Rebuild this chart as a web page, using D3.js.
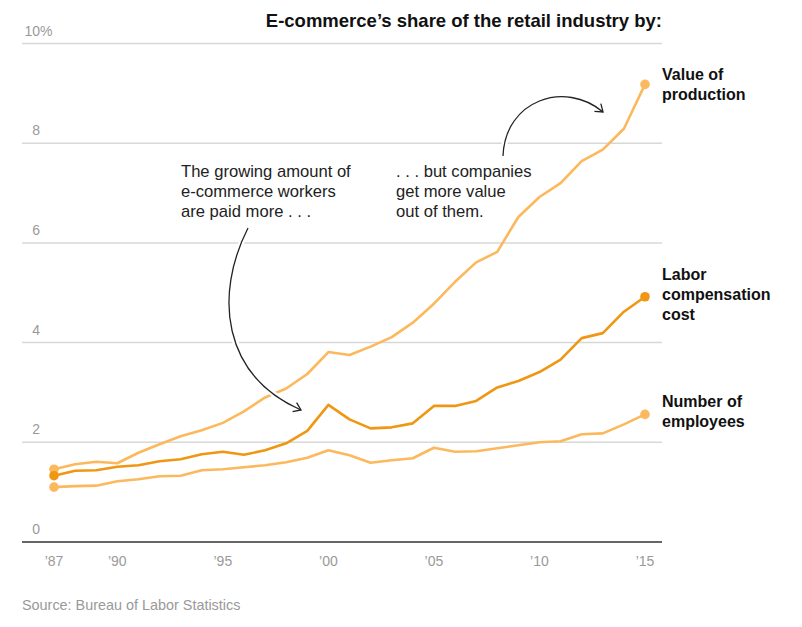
<!DOCTYPE html>
<html>
<head>
<meta charset="utf-8">
<script src="https://cdn.jsdelivr.net/npm/d3@7"></script>
<style>
  body { margin: 0; background: #fff; }
  svg { display: block; font-family: "Liberation Sans", Arial, sans-serif; }
</style>
</head>
<body>
<svg id="chart" width="802" height="627"></svg>
<script>
const years = d3.range(1987, 2016);
const valueOfProduction = [1.46, 1.56, 1.61, 1.58, 1.79, 1.96, 2.12, 2.24, 2.39, 2.62, 2.90, 3.08, 3.37, 3.81, 3.75, 3.92, 4.11, 4.40, 4.78, 5.22, 5.61, 5.82, 6.52, 6.92, 7.20, 7.64, 7.87, 8.29, 9.18];
const laborCompensation = [1.33, 1.43, 1.44, 1.51, 1.54, 1.62, 1.66, 1.76, 1.81, 1.75, 1.84, 1.98, 2.23, 2.75, 2.46, 2.28, 2.30, 2.38, 2.73, 2.73, 2.83, 3.10, 3.23, 3.41, 3.66, 4.09, 4.19, 4.62, 4.92];
const employees = [1.10, 1.12, 1.13, 1.22, 1.26, 1.32, 1.33, 1.44, 1.46, 1.50, 1.54, 1.60, 1.69, 1.84, 1.74, 1.59, 1.64, 1.68, 1.89, 1.81, 1.82, 1.88, 1.94, 2.00, 2.02, 2.16, 2.18, 2.36, 2.56];
const yTicks = [0, 2, 4, 6, 8, 10];
const xTickYears = [1987, 1990, 1995, 2000, 2005, 2010, 2015];
const xTickLabels = ["’87", "’90", "’95", "’00", "’05", "’10", "’15"];
const seriesNames = [["Value of", "production"], ["Labor", "compensation", "cost"], ["Number of", "employees"]];
const title = "E-commerce’s share of the retail industry by:";
const note1 = ["The growing amount of", "e-commerce workers", "are paid more . . ."];
const note2 = [". . . but companies", "get more value", "out of them."];
const source = "Source: Bureau of Labor Statistics";

const svg = d3.select("#chart");
const x = d3.scaleLinear().domain([1987, 2015]).range([54, 645]);
const y = d3.scaleLinear().domain([0, 10]).range([542, 43.5]);
const gridLeft = 22, gridRight = 662;

const lightC = "#fcb85c", darkC = "#ef9712";

// title
svg.append("text").attr("x", gridRight).attr("y", 27).attr("text-anchor", "end")
  .attr("font-size", 18.5).attr("font-weight", "bold").attr("fill", "#111").text(title);

// gridlines
svg.append("g").selectAll("line").data(yTicks.filter(d => d > 0)).join("line")
  .attr("x1", gridLeft).attr("x2", gridRight).attr("y1", d => y(d)).attr("y2", d => y(d))
  .attr("stroke", "#d8d8d8").attr("stroke-width", 1.5);
svg.append("line").attr("x1", gridLeft).attr("x2", gridRight).attr("y1", y(0)).attr("y2", y(0))
  .attr("stroke", "#333").attr("stroke-width", 1.5);

// y labels
svg.append("g").selectAll("text").data(yTicks).join("text")
  .attr("x", 40).attr("y", d => y(d) - 8).attr("text-anchor", "end")
  .attr("font-size", 14).attr("fill", "#9a9a9a").text(d => d);
svg.append("text").attr("x", 40).attr("y", y(10) - 8).attr("font-size", 14).attr("fill", "#9a9a9a").text("%");

// x labels
svg.append("g").selectAll("text").data(xTickYears).join("text")
  .attr("x", d => x(d)).attr("y", 566).attr("text-anchor", "middle")
  .attr("font-size", 14).attr("fill", "#9a9a9a").text((d, i) => xTickLabels[i]);

// lines
const line = d3.line().x((d, i) => x(years[i])).y(d => y(d));
const series = [
  { vals: valueOfProduction, color: lightC },
  { vals: employees, color: lightC },
  { vals: laborCompensation, color: darkC }
];
series.forEach(s => {
  svg.append("path").datum(s.vals).attr("d", line).attr("fill", "none")
    .attr("stroke", s.color).attr("stroke-width", 2.6).attr("stroke-linejoin", "round");
  svg.append("circle").attr("cx", x(1987)).attr("cy", y(s.vals[0])).attr("r", 4.8).attr("fill", s.color);
  svg.append("circle").attr("cx", x(2015)).attr("cy", y(s.vals[s.vals.length - 1])).attr("r", 4.8).attr("fill", s.color);
});

// series labels
const labelYs = [80, 280, 406.5];
seriesNames.forEach((lines, k) => {
  const t = svg.append("text").attr("x", gridRight).attr("y", labelYs[k])
    .attr("font-size", 16).attr("font-weight", "bold").attr("fill", "#111");
  lines.forEach((l, j) => t.append("tspan").attr("x", gridRight).attr("dy", j === 0 ? 0 : 20).text(l));
});

// annotations
function note(lines, x0, y0) {
  const t = svg.append("text").attr("x", x0).attr("y", y0).attr("font-size", 16.6).attr("fill", "#222");
  lines.forEach((l, j) => t.append("tspan").attr("x", x0).attr("dy", j === 0 ? 0 : 20).text(l));
}
note(note1, 181, 176.5);
note(note2, 396, 176.5);

// arrows
svg.append("defs").append("marker").attr("id", "ah").attr("viewBox", "-8 -6 10 12")
  .attr("markerWidth", 10).attr("markerHeight", 12).attr("markerUnits", "userSpaceOnUse")
  .attr("orient", "auto").append("path").attr("d", "M-7,-5 L0,0 L-7,5")
  .attr("fill", "none").attr("stroke", "#222").attr("stroke-width", 1.3);
const arrows = [
  "M248,228 C214,295 222,375 301,410",
  "M503,156 C505,100 565,80 603,112"
];
arrows.forEach(d => {
  svg.append("path").attr("d", d).attr("fill", "none").attr("stroke", "#fff").attr("stroke-width", 6);
  svg.append("path").attr("d", d).attr("fill", "none").attr("stroke", "#222").attr("stroke-width", 1.3)
    .attr("marker-end", "url(#ah)");
});

// source
svg.append("text").attr("x", gridLeft).attr("y", 610).attr("font-size", 14.4).attr("fill", "#999").text(source);
</script>
</body>
</html>
